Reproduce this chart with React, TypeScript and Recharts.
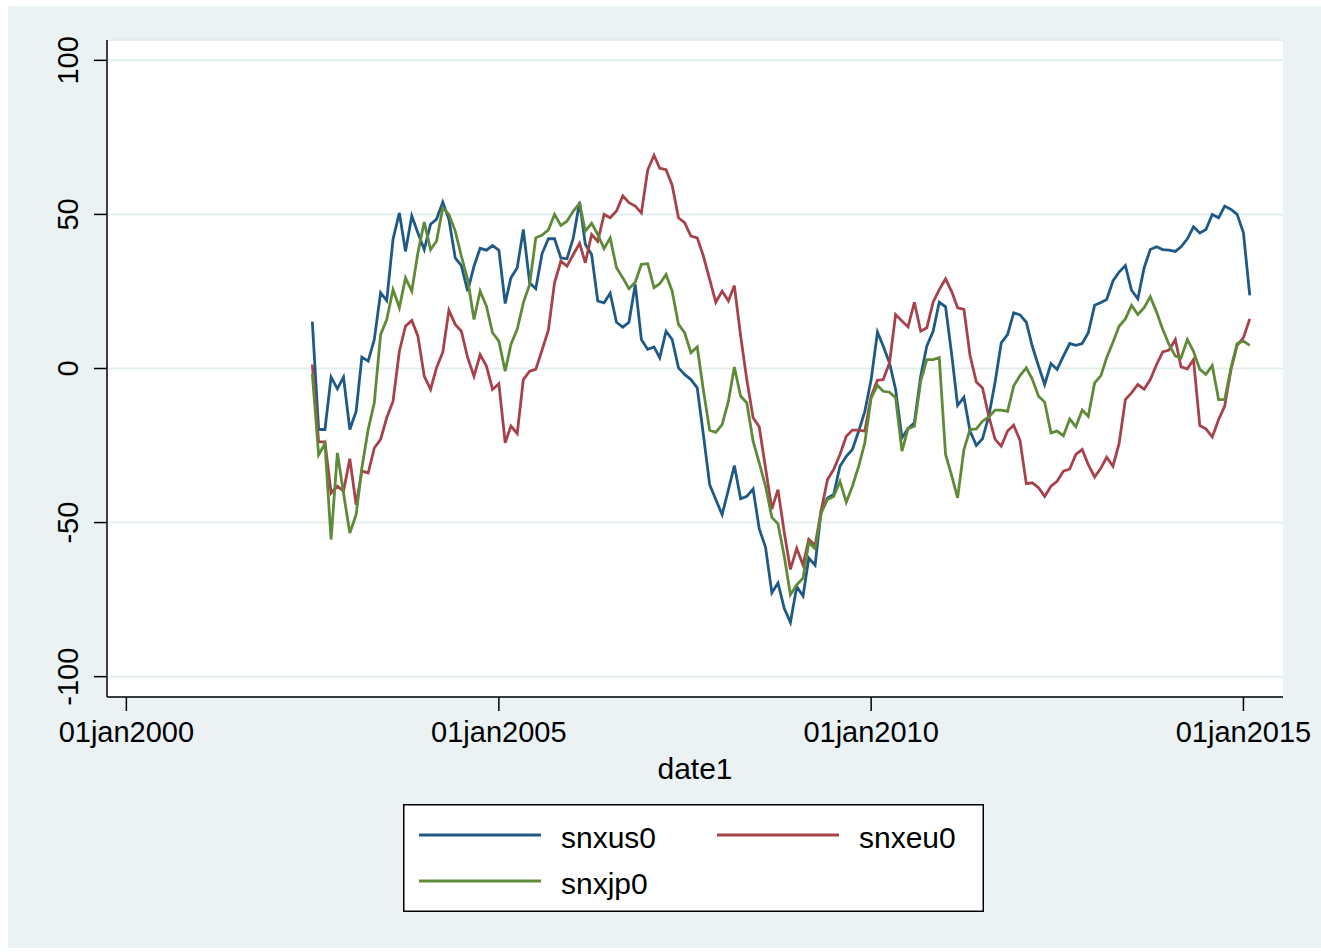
import { LineChart, Line, XAxis, YAxis, CartesianGrid, Legend } from 'recharts'

const FONT = '"Liberation Sans", Arial, Helvetica, sans-serif'

// monthly observations, first one is 01jul2002
const START_YEAR = 2002
const START_MONTH = 6 // zero-based

const snxus0 = [
  15.2, -19.8, -19.8, -2.8, -6.6, -2.8, -19.8, -13.9, 3.7, 2.4,
  9.4, 24.6, 22, 42, 50.5, 38, 49.5, 44, 38.6, 46.8,
  48.4, 54, 48.4, 35.9, 33.4, 25.1, 33.2, 39, 38.4, 39.9,
  38.4, 21.1, 29.4, 32.7, 45.1, 27.8, 25.9, 37.3, 42.1, 42.1,
  35.9, 35.6, 42.4, 54, 40.3, 37, 21.9, 21.3, 24.4, 15,
  13.4, 15, 27.3, 9.4, 6.2, 7, 3.5, 12.1, 9.4, 0.2,
  -1.9, -3.6, -6.3, -21.4, -37.7, -42.5, -47.4, -39.3, -31.5, -42.3,
  -41.5, -39.1, -52, -58, -72.8, -69.6, -77.9, -82.4, -70.8, -73.8,
  -61.5, -63.8, -46, -42, -40.9, -31.7, -28.5, -26.3, -20.3, -13.9,
  -3.6, 11.8, 7.3, 1.8, -6.8, -22.5, -19.5, -17.6, -2.5, 7.3,
  12.1, 21.5, 20, 4, -12, -9.3, -20.3, -25, -22.8, -15.5,
  -4.4, 8.3, 11, 18.1, 17.4, 15, 7.3, 0.8, -5.2, 1.6,
  -0.3, 4, 8.1, 7.5, 8.1, 11.6, 20.5, 21.4, 22.4, 28.4,
  31.3, 33.4, 25.4, 22.6, 32.7, 38.6, 39.5, 38.6, 38.4, 38,
  39.5, 42.1, 46, 44, 45.1, 50, 48.9, 52.7, 51.6, 50,
  44, 23.7,
]

const snxeu0 = [
  1.3, -23.8, -23.8, -40.4, -38.2, -39.8, -29.3, -44.2, -33.3, -33.9,
  -25.8, -23, -16, -10.6, 5.6, 13.7, 15.6, 10.5, -2.5, -6.8,
  0.2, 5.3, 18.9, 14.3, 12.1, 3.5, -2.5, 4.5, 0.8, -6.8,
  -4.9, -24.1, -18.7, -21.1, -3.6, -0.9, -0.3, 6, 12.5, 27.8,
  34.8, 33.2, 37, 40.6, 34.3, 43.5, 41.3, 50, 48.9, 51.1,
  56, 53.8, 52.7, 50.5, 64.4, 69.2, 65, 64.5, 59.5, 48.9,
  47.3, 43, 42.4, 36.5, 28.9, 21.5, 25.1, 21.9, 26.9, 10.5,
  -3.6, -16, -18.9, -32.3, -45.6, -39.3, -53.3, -65.2, -58.4, -63.8,
  -55.4, -57.4, -46, -36, -32.8, -27.9, -22, -20, -20, -20.3,
  -9, -3.8, -3.6, 1.8, 17.5, 15.4, 13.5, 21.5, 12.1, 13.2,
  21.5, 25.6, 29.1, 24.8, 19.7, 19.2, 4.2, -4.4, -6.3, -15.5,
  -23, -25.2, -20.3, -18.4, -23.3, -37.4, -37.1, -38.7, -41.5, -38.2,
  -36.6, -33.3, -32.6, -27.9, -26.3, -31.2, -35.2, -32.3, -28.8, -31.7,
  -24.4, -10.1, -7.9, -5.2, -6.7, -3.6, 1.3, 5.4, 6, 9.4,
  0.5, -0.1, 2.9, -18.5, -19.6, -22.2, -16.6, -12.2, -0.3, 7.5,
  10, 16.1,
]

const snxjp0 = [
  -1.7, -28, -24.4, -55.5, -27.4, -40.4, -53.4, -47.4, -32.3, -19.8,
  -11.1, 11, 15.9, 25.6, 19.7, 29.4, 25.1, 37.6, 47.5, 38.6,
  41.3, 52.2, 50, 44.6, 36.5, 28.9, 15.9, 25.1, 20.2, 11.6,
  8.9, -0.9, 7.8, 12.7, 21.3, 27.3, 42.4, 43.3, 45, 50,
  46.4, 47.8, 51.1, 53.6, 44.6, 47.1, 43.5, 38.9, 42.4, 32.7,
  29.4, 25.9, 28, 33.8, 34, 26.2, 27.5, 30.5, 25.1, 14.3,
  11.6, 5.1, 7, -7, -20, -20.7, -18.2, -10.6, 0.5, -9,
  -11.1, -23.6, -30.6, -38.2, -48.3, -50.4, -61, -73.4, -70.2, -68,
  -56.4, -58.5, -46.9, -42.5, -41.5, -36.6, -43.4, -38.2, -31.7, -24.1,
  -9.5, -5.5, -7.4, -7.7, -9.5, -26.8, -19.5, -18.7, -4.1, 2.9,
  2.9, 3.5, -27.9, -35, -42, -26.3, -19.8, -19.6, -17.1, -15.7,
  -13.5, -13.5, -13.9, -5.7, -2.3, 0.2, -3.4, -9, -10.9, -20.9,
  -20.3, -21.8, -16.4, -18.9, -13.5, -15.5, -4.7, -2.3, 3.5, 8.5,
  13.7, 16.1, 20.5, 17.5, 19.7, 23.3, 18.3, 12.7, 7.8, 4,
  3.5, 9.4, 5.6, -0.3, -1.9, 1, -10.1, -10.1, 0.2, 8.1,
  8.9, 7.5,
]

const X_TICK_YEARS = [2000, 2005, 2010, 2015]
const Y_TICKS = [-100, -50, 0, 50, 100]
const MONTHS = ['jan', 'feb', 'mar', 'apr', 'may', 'jun', 'jul', 'aug', 'sep', 'oct', 'nov', 'dec']

const SERIES = [
  { key: 'snxus0', color: '#1f5a87', row: 0, col: 0 },
  { key: 'snxeu0', color: '#a8424a', row: 0, col: 1 },
  { key: 'snxjp0', color: '#5f8a38', row: 1, col: 0 },
]

const DAY = 86400000
const X_TICKS = X_TICK_YEARS.map(y => Date.UTC(y, 0, 1))
const X_DOMAIN = [X_TICKS[0] - 95 * DAY, X_TICKS[3] + 194 * DAY]

const data = snxus0.map((v, i) => ({
  date: Date.UTC(START_YEAR, START_MONTH + i, 1),
  snxus0: v,
  snxeu0: snxeu0[i],
  snxjp0: snxjp0[i],
}))

const fmtDate = (t: number) => {
  const d = new Date(t)
  return String(d.getUTCDate()).padStart(2, '0') + MONTHS[d.getUTCMonth()] + d.getUTCFullYear()
}

const XTick = ({ x, y, payload }: any) => (
  <text x={x} y={y} dy={31} textAnchor="middle" fontSize={29} fontFamily={FONT} fill="#000">
    {fmtDate(payload.value)}
  </text>
)

// stata style: y labels turned on their side
const YTick = ({ x, y, payload }: any) => {
  const bx = x - 16
  return (
    <text x={bx} y={y} transform={`rotate(-90 ${bx} ${y})`} textAnchor="middle" fontSize={29} fontFamily={FONT} fill="#000">
      {payload.value}
    </text>
  )
}

const LegendBox = () => (
  <svg width={581} height={108} style={{ display: 'block' }}>
    <rect x={0.75} y={0.75} width={579.5} height={106.5} fill="#fff" stroke="#000" strokeWidth={1.5} />
    {SERIES.map(s => {
      const lx = s.col === 0 ? 16 : 314
      const ly = s.row === 0 ? 31 : 77
      return (
        <g key={s.key}>
          <line x1={lx} x2={lx + 122} y1={ly} y2={ly} stroke={s.color} strokeWidth={3} />
          <text x={lx + 142} y={ly + 13} fontSize={30} fontFamily={FONT} fill="#000">{s.key}</text>
        </g>
      )
    })}
  </svg>
)

export default function App() {
  return (
    <div style={{ position: 'absolute', left: 0, top: 0, width: 1321, height: 952, background: '#fff', overflow: 'hidden' }}>
      <div style={{ position: 'absolute', left: 8, top: 6, width: 1313, height: 942, background: '#EAF2F3' }} />
      <div style={{ position: 'absolute', left: 8, top: 8 }}>
        <LineChart width={1313} height={936} data={data} margin={{ top: 32, right: 38, bottom: 157, left: 29 }}>
          <CartesianGrid vertical={false} fill="#fff" stroke="#E4EEEF" strokeWidth={2} />
          <XAxis
            dataKey="date"
            type="number"
            domain={X_DOMAIN}
            ticks={X_TICKS}
            interval={0}
            height={90}
            tickSize={14}
            tickMargin={0}
            tick={<XTick />}
            tickLine={{ stroke: '#000', strokeWidth: 1.5 }}
            axisLine={{ stroke: '#000', strokeWidth: 1.5 }}
            label={{ value: 'date1', position: 'insideTop', offset: 61, fontSize: 30, fontFamily: FONT, fill: '#000' }}
          />
          <YAxis
            type="number"
            domain={[-106.6, 106.6]}
            ticks={Y_TICKS}
            interval={0}
            width={70}
            tickSize={13}
            tickMargin={0}
            tick={<YTick />}
            tickLine={{ stroke: '#000', strokeWidth: 1.5 }}
            axisLine={{ stroke: '#000', strokeWidth: 1.5 }}
          />
          {SERIES.map(s => (
            <Line
              key={s.key}
              type="linear"
              dataKey={s.key}
              stroke={s.color}
              strokeWidth={2.8}
              dot={false}
              activeDot={false}
              isAnimationActive={false}
            />
          ))}
          <Legend
            layout="horizontal"
            verticalAlign="middle"
            align="center"
            content={<LegendBox />}
            wrapperStyle={{ left: 395, top: 796, width: 581, height: 108 }}
          />
        </LineChart>
      </div>
    </div>
  )
}
